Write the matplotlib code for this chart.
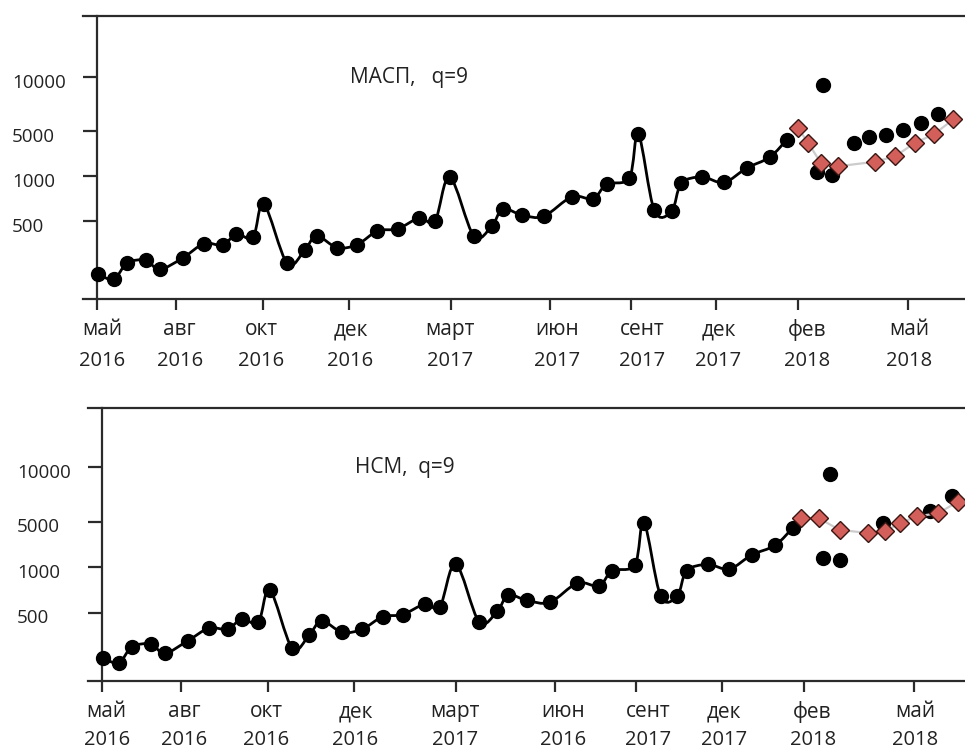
import numpy as np
import matplotlib
matplotlib.use('Agg')
import matplotlib.pyplot as plt
from matplotlib.path import Path
from matplotlib.patches import PathPatch

plt.rcParams['font.family'] = ['Open Sans', 'DejaVu Sans']

# time axis: months since May 2016
tick_pos = [0, 2.34, 4.91, 7.46, 10.47, 13.40, 15.79, 18.31, 20.75, 23.98]
label_pos = [0.15, 2.45, 4.87, 7.5, 10.45, 13.62, 16.14, 18.39, 21.0, 24.02]
month_names = ['май', 'авг', 'окт', 'дек', 'март', 'июн', 'сент', 'дек', 'фев', 'май']
years_top = ['2016', '2016', '2016', '2016', '2017', '2017', '2017', '2017', '2018', '2018']
years_bottom = ['2016', '2016', '2016', '2016', '2017', '2016', '2017', '2017', '2018', '2018']

# vertical scale levels
level_pos = [1.0, 2.0, 3.0, 4.2]
level_labels = ['500', '1000', '5000', '10000']

# МАСП panel
masp_t = [0.04, 0.50, 0.90, 1.44, 1.86, 2.54, 3.17, 3.72, 4.13, 4.62, 4.94, 5.63, 6.15,
          6.50, 7.11, 7.70, 8.30, 8.90, 9.54, 10.00, 10.44, 11.15, 11.68, 12.01, 12.59,
          13.22, 14.05, 14.68, 15.08, 15.75, 16.02, 16.49, 17.00, 17.29, 17.90, 18.55,
          19.22, 19.90, 20.41]
masp_y = [-0.18, -0.29, 0.07, 0.13, -0.07, 0.18, 0.50, 0.47, 0.71, 0.64, 1.38, 0.06, 0.36,
          0.67, 0.41, 0.48, 0.78, 0.83, 1.07, 1.00, 1.98, 0.67, 0.89, 1.27, 1.13,
          1.11, 1.54, 1.50, 1.82, 1.96, 2.93, 1.24, 1.22, 1.84, 1.98, 1.86,
          2.18, 2.42, 2.81]
masp_fact_t = [21.29, 21.49, 21.74, 22.40, 22.84, 23.34, 23.85, 24.38, 24.89]
masp_fact_y = [2.10, 4.02, 2.02, 2.74, 2.88, 2.91, 3.02, 3.19, 3.38]
masp_fc_t = [20.75, 21.04, 21.41, 21.93, 23.02, 23.61, 24.20, 24.76, 25.33]
masp_fc_y = [3.06, 2.74, 2.30, 2.22, 2.32, 2.44, 2.74, 2.93, 3.26]

# НСМ panel
nsm_t = [0.05, 0.51, 0.90, 1.45, 1.87, 2.54, 3.17, 3.72, 4.14, 4.63, 4.97, 5.63, 6.14,
         6.50, 7.11, 7.70, 8.30, 8.89, 9.55, 9.99, 10.46, 11.15, 11.69, 12.01, 12.56,
         13.24, 14.05, 14.69, 15.08, 15.75, 16.02, 16.51, 17.00, 17.28, 17.90, 18.54,
         19.20, 19.89, 20.42]
nsm_y = [0.00, -0.10, 0.25, 0.31, 0.11, 0.38, 0.66, 0.64, 0.86, 0.79, 1.50, 0.22, 0.52,
         0.82, 0.57, 0.64, 0.91, 0.96, 1.19, 1.13, 2.07, 0.80, 1.04, 1.39, 1.27,
         1.23, 1.65, 1.59, 1.92, 2.05, 2.98, 1.37, 1.37, 1.92, 2.06, 1.96,
         2.27, 2.48, 2.87]
nsm_fact_t = [21.30, 21.50, 21.81, 23.09, 24.48, 25.12]
nsm_fact_y = [2.20, 4.04, 2.15, 2.96, 3.23, 3.56]
nsm_fc_t = [20.66, 21.19, 21.80, 22.64, 23.14, 23.59, 24.08, 24.69, 25.30]
nsm_fc_y = [3.08, 3.07, 2.82, 2.75, 2.79, 2.97, 3.12, 3.18, 3.44]


def smooth_path(x, y):
    # Catmull-Rom style bezier through the points
    pts = np.column_stack([x, y])
    n = len(pts)
    verts = [pts[0]]
    codes = [Path.MOVETO]
    for i in range(n - 1):
        p0 = pts[max(i - 1, 0)]
        p1 = pts[i]
        p2 = pts[i + 1]
        p3 = pts[min(i + 2, n - 1)]
        verts += [p1 + (p2 - p0) / 6, p2 - (p3 - p1) / 6, p2]
        codes += [Path.CURVE4] * 3
    return Path(verts, codes)


def draw_panel(ax, t, y, fact_t, fact_y, fc_t, fc_y, years, title, xlim, ylim, year_off):
    ax.set_xlim(*xlim)
    ax.set_ylim(*ylim)
    edge = '#2b2b2b'
    for side in ['top', 'bottom', 'left']:
        ax.spines[side].set_color(edge)
        ax.spines[side].set_linewidth(1.6)
    ax.spines['right'].set_visible(False)
    ax.spines['left'].set_position(('data', 0))

    ax.add_patch(PathPatch(smooth_path(t, y), facecolor='none', edgecolor='black',
                           lw=2.0, zorder=2))
    ax.plot(t, y, 'o', ms=10, color='black', zorder=3)
    ax.plot(fact_t, fact_y, 'o', ms=10, color='black', zorder=3)
    ax.plot(fc_t, fc_y, '-', color='#cccccc', lw=1.6, zorder=4)
    ax.plot(fc_t, fc_y, 'D', ms=9, mfc='#d25f59', mec='#3a1512', mew=1.0, zorder=5)

    ax.set_xticks(tick_pos)
    ax.set_xticklabels([])
    ax.set_yticks(level_pos)
    ax.set_yticklabels([])
    ax.tick_params(axis='x', direction='out', length=8, width=1.6, color=edge)
    ax.tick_params(axis='y', direction='out', length=10, width=1.6, color=edge)

    for pos, m, yr in zip(label_pos, month_names, years):
        ax.annotate(m, xy=(pos, 0), xycoords=('data', 'axes fraction'),
                    xytext=(0, -22), textcoords='offset points',
                    ha='center', va='center', fontsize=15, color='#222222')
        ax.annotate(yr, xy=(pos, 0), xycoords=('data', 'axes fraction'),
                    xytext=(0, year_off), textcoords='offset points',
                    ha='center', va='center', fontsize=14.5, color='#222222')
    for pos, lbl in zip(level_pos, level_labels):
        ax.annotate(lbl, xy=(0, pos), xycoords=('axes fraction', 'data'),
                    xytext=(-51, -4), textcoords='offset points',
                    ha='left', va='center', fontsize=13.5, color='#222222')
    ax.text(7.49, 4.2, title, fontsize=15, ha='left', va='center', color='#222222')


fig = plt.figure(figsize=(9.65, 7.51), dpi=100)
ax1 = fig.add_axes([0.086, 0.6019, 0.914, 0.3768])
ax2 = fig.add_axes([0.0912, 0.0932, 0.9088, 0.3631])

draw_panel(ax1, masp_t, masp_y, masp_fact_t, masp_fact_y, masp_fc_t, masp_fc_y,
           years_top, 'МАСП,   q=9', (-0.41, 25.68), (-0.73, 5.56), -45)
draw_panel(ax2, nsm_t, nsm_y, nsm_fact_t, nsm_fact_y, nsm_fc_t, nsm_fc_y,
           years_bottom, 'НСМ,  q=9', (-0.40, 25.50), (-0.50, 5.49), -42.5)

fig.savefig('out.png', dpi=100)
